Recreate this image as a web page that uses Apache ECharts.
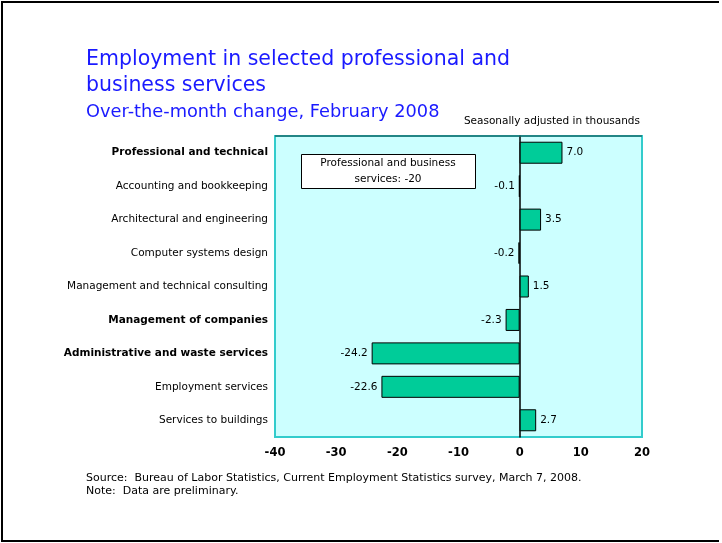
<!DOCTYPE html>
<html>
<head>
<meta charset="utf-8">
<script src="https://cdn.jsdelivr.net/npm/echarts@6/dist/echarts.min.js"></script>
<style>
  html, body { margin: 0; padding: 0; background: #fff; }
  #chart { width: 722px; height: 543px; }
</style>
</head>
<body>
<div id="chart"></div>
<script>
// categories, top to bottom
var categories = [
  'Professional and technical',
  'Accounting and bookkeeping',
  'Architectural and engineering',
  'Computer systems design',
  'Management and technical consulting',
  'Management of companies',
  'Administrative and waste services',
  'Employment services',
  'Services to buildings'
];
// over-the-month change, thousands
var changes = [7.0, -0.1, 3.5, -0.2, 1.5, -2.3, -24.2, -22.6, 2.7];
// headline industries are printed bold
var boldRows = ['Professional and technical', 'Management of companies', 'Administrative and waste services'];
var xTicks = [-40, -30, -20, -10, 0, 10, 20];

var FONT = 'DejaVu Sans';

var chart = echarts.init(document.getElementById('chart'));

var option = {
  backgroundColor: '#fff',
  animation: false,
  textStyle: { fontFamily: FONT },
  grid: {
    left: 275, top: 136, width: 367, height: 301,
    show: true,
    backgroundColor: '#ccffff',
    borderColor: '#33cccc',
    borderWidth: 2
  },
  xAxis: {
    type: 'value',
    min: xTicks[0],
    max: xTicks[xTicks.length - 1],
    interval: 10,
    splitLine: { show: false },
    axisLine: { show: false },
    axisTick: { show: false },
    axisLabel: { color: '#000', fontWeight: 'bold', fontSize: 11.5, margin: 10, fontFamily: FONT }
  },
  yAxis: {
    type: 'category',
    data: categories,
    inverse: true,
    axisTick: { show: false },
    axisLine: { onZero: true, lineStyle: { color: '#000', width: 1.5 } },
    axisLabel: {
      margin: 7,
      fontSize: 10.5,
      fontFamily: FONT,
      formatter: function(v) {
        return boldRows.indexOf(v) >= 0 ? '{b|' + v + '}' : '{n|' + v + '}';
      },
      rich: {
        b: { fontWeight: 'bold', fontSize: 10.5, color: '#000', fontFamily: FONT },
        n: { fontSize: 10.5, color: '#000', fontFamily: FONT }
      }
    }
  },
  series: [{
    type: 'bar',
    data: changes.map(function(v) {
      return {
        value: v,
        label: { position: v < 0 ? 'left' : 'right' }
      };
    }),
    barWidth: 22,
    itemStyle: { color: '#00cc99', borderColor: '#000', borderWidth: 1 },
    label: {
      show: true,
      fontSize: 10.5,
      color: '#000',
      distance: 4,
      fontFamily: FONT,
      formatter: function(p) { return p.value.toFixed(1); }
    },
    z: 3
  }],
  graphic: [
    // frame around the slide (no right edge)
    { type: 'polyline', shape: { points: [[719, 2], [2, 2], [2, 541], [719, 541]] },
      style: { stroke: '#000', lineWidth: 2, fill: null } },
    // darker top edge of the plot panel
    { type: 'line', shape: { x1: 275, y1: 136, x2: 642, y2: 136 }, z: 5,
      style: { stroke: '#1f6f6f', lineWidth: 1.5 } },
    { type: 'text', left: 86, top: 47,
      style: { text: 'Employment in selected professional and\nbusiness services', fill: '#1a1aff',
        font: '20.5px ' + FONT, lineHeight: 26 } },
    { type: 'text', left: 86, top: 103,
      style: { text: 'Over-the-month change, February 2008', fill: '#1a1aff', font: '17.8px ' + FONT } },
    { type: 'text', right: 82, top: 116,
      style: { text: 'Seasonally adjusted in thousands', fill: '#000', font: '10.5px ' + FONT } },
    { type: 'rect', shape: { x: 301.5, y: 154.5, width: 174, height: 34 }, z: 10,
      style: { fill: '#fff', stroke: '#000', lineWidth: 1 } },
    { type: 'text', x: 388, y: 171, z: 11,
      style: { text: 'Professional and business\nservices: -20', fill: '#000', font: '10.5px ' + FONT,
        align: 'center', verticalAlign: 'middle', lineHeight: 16 } },
    { type: 'text', left: 86, top: 472,
      style: { text: 'Source:  Bureau of Labor Statistics, Current Employment Statistics survey, March 7, 2008.\nNote:  Data are preliminary.',
        fill: '#000', font: '11px ' + FONT, lineHeight: 13 } }
  ]
};

chart.setOption(option);
</script>
</body>
</html>
